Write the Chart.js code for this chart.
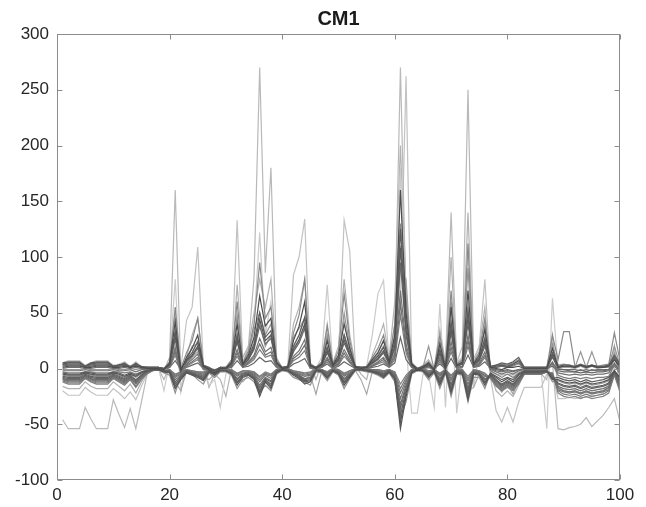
<!DOCTYPE html>
<html>
<head>
<meta charset="utf-8">
<script src="https://cdn.jsdelivr.net/npm/chart.js@4.4.1/dist/chart.umd.min.js"></script>
<style>
  html, body { margin: 0; padding: 0; background: #fff; }
  #wrap { width: 646px; height: 507px; }
</style>
</head>
<body>
<div id="wrap"><canvas id="cm1" width="646" height="507"></canvas></div>
<script>
// x positions 1..100
const xs = Array.from({ length: 100 }, (_, i) => i + 1);
const xTicks = [0, 20, 40, 60, 80, 100];
const yTicks = [-100, -50, 0, 50, 100, 150, 200, 250, 300];

// dark lines with positive peaks
const p1 = [
  1,2,2,2,1,1,2,2,2,1,
  1,2,1,2,1,0,0,0,-1,5,
  42,-2,10,18,30,2,-1,-4,0,0,
  6,40,4,12,28,65,38,45,6,0,
  1,25,38,60,3,0,4,25,3,12,
  40,18,1,0,1,8,14,25,6,30,
  160,50,4,-2,1,5,-2,22,0,55,
  3,6,70,4,12,35,1,0,-1,1,
  1,2,0,0,0,0,0,18,1,2,
  2,1,3,1,3,1,1,2,8,2
];
const p2 = [
  5,6,6,6,2,5,6,6,6,2,
  3,5,1,5,1,1,1,1,0,4,
  34,-1,8,14,24,3,1,-2,1,1,
  5,30,4,10,22,50,28,34,5,1,
  2,20,30,46,3,1,4,19,3,9,
  30,14,2,1,1,6,11,19,5,24,
  125,40,4,0,2,4,-1,17,1,42,
  3,5,52,4,9,27,2,3,5,4,
  6,10,1,1,1,1,1,14,2,3,
  3,2,4,2,3,2,2,3,12,4
];
const p3 = [
  3,4,4,4,2,3,4,4,4,2,
  3,4,2,4,2,1,1,1,0,3,
  26,0,6,11,18,2,0,-2,1,0,
  4,24,3,8,17,38,22,27,4,1,
  1,15,23,36,2,1,3,14,2,7,
  23,11,1,1,1,5,8,14,4,18,
  95,30,3,0,1,3,0,13,0,32,
  2,4,40,3,7,20,1,1,2,1,
  3,5,0,0,0,0,0,10,0,-1,
  -2,-3,-1,-3,-1,-2,-2,-1,8,0
];
const p4 = [
  -2,-2,-2,-2,-1,-2,-2,-2,-2,-1,
  -2,-2,-1,-3,-1,-1,0,0,-1,2,
  18,-3,4,8,13,0,-1,-3,0,-1,
  3,17,2,6,12,27,15,19,2,0,
  0,11,16,26,1,0,2,10,1,5,
  17,8,0,0,0,3,6,10,2,13,
  70,22,2,-1,0,2,-1,10,-1,24,
  1,2,30,2,5,15,-1,-3,-5,-3,
  -5,-2,-1,-1,-1,-1,-1,6,-4,-5,
  -6,-5,-6,-5,-6,-5,-5,-4,5,-3
];
const p5 = [
  -3,-4,-4,-4,-3,-3,-4,-4,-4,-3,
  -3,-4,-3,-5,-3,-1,0,0,-1,1,
  12,-4,2,5,8,-1,-1,-3,-1,-1,
  2,11,1,4,8,17,10,12,1,0,
  0,7,10,16,0,0,1,6,0,3,
  11,5,0,0,0,2,4,6,1,8,
  48,14,1,-1,0,1,-1,6,-1,15,
  0,1,20,1,3,10,-2,-5,-8,-5,
  -8,-4,-2,-2,-2,-2,-1,4,-6,-8,
  -9,-8,-9,-8,-9,-8,-8,-7,3,-5
];
const p6 = [
  2,3,3,3,1,2,3,3,3,1,
  2,3,1,3,1,0,0,0,0,1,
  7,-1,1,3,5,0,0,-1,0,0,
  1,7,1,2,5,10,6,7,1,0,
  0,4,6,9,0,0,1,4,0,2,
  6,3,0,0,0,1,2,4,1,5,
  28,8,1,0,0,1,0,4,0,9,
  0,1,12,1,2,6,0,-1,-2,-1,
  -2,-1,-1,-1,-1,-1,0,2,-2,-3,
  -3,-3,-4,-3,-4,-3,-3,-2,2,-2
];
const p7 = [
  4,5,5,5,2,4,5,5,5,2,
  3,4,1,4,1,1,1,1,0,3,
  30,-1,7,12,20,2,0,-2,1,0,
  4,26,3,8,19,44,25,30,4,0,
  1,17,26,40,2,1,3,16,2,8,
  26,12,1,1,1,5,9,16,4,20,
  108,34,3,0,1,3,-1,14,0,36,
  2,4,46,3,8,23,1,2,3,2,
  4,7,1,1,1,1,1,12,1,2,
  2,1,3,1,2,1,1,2,10,3
];
const p8 = [
  0,1,1,1,0,0,1,1,1,0,
  0,1,0,1,0,0,0,0,0,1,
  15,-2,3,6,10,0,-1,-2,0,0,
  2,14,1,5,10,22,12,15,2,0,
  0,9,13,21,1,0,1,8,1,4,
  14,6,0,0,0,2,5,8,2,10,
  58,18,1,0,0,2,0,8,0,19,
  1,2,25,1,4,12,0,-2,-3,-2,
  -3,-1,0,0,0,0,0,5,-1,-1,
  -1,-1,-2,-1,-2,-1,-1,-1,4,-1
];

// dark lines dipping below zero
const n1 = [
  -5,-6,-6,-6,-4,-5,-6,-6,-6,-4,
  -5,-7,-5,-7,-4,-2,-1,-1,-3,-4,
  -18,-10,-4,-6,-8,-11,-3,-6,-2,-2,
  -5,-15,-8,-6,-10,-25,-12,-18,-4,-1,
  -2,-6,-9,-14,-12,-2,-3,-9,-2,-5,
  -15,-8,-1,-1,-2,-3,-5,-8,-3,-10,
  -54,-25,-4,-1,-2,-8,-3,-15,-3,-22,
  -4,-5,-28,-5,-6,-15,-5,-8,-12,-9,
  -12,-6,-3,-3,-3,-3,-2,-10,-10,-12,
  -13,-12,-14,-12,-14,-13,-12,-10,-2,-9
];
const n2 = [
  -7,-8,-8,-8,-5,-7,-8,-8,-8,-5,
  -7,-9,-6,-10,-6,-2,-1,-1,-3,-3,
  -14,-8,-3,-5,-7,-9,-3,-5,-2,-2,
  -4,-12,-6,-5,-8,-20,-10,-14,-3,-1,
  -2,-5,-7,-11,-10,-2,-2,-7,-2,-4,
  -12,-6,-1,-1,-2,-2,-4,-6,-2,-8,
  -42,-20,-3,-1,-2,-6,-2,-12,-2,-18,
  -3,-4,-22,-4,-5,-12,-6,-10,-14,-11,
  -14,-8,-3,-3,-3,-3,-2,-8,-13,-15,
  -16,-15,-17,-15,-17,-16,-15,-13,-3,-12
];
const n3 = [
  -9,-10,-10,-10,-7,-9,-10,-10,-10,-7,
  -9,-11,-8,-12,-7,-3,-1,-1,-2,-2,
  -10,-6,-2,-4,-5,-7,-2,-4,-1,-2,
  -3,-9,-5,-4,-6,-15,-8,-11,-2,-1,
  -1,-4,-6,-9,-8,-1,-2,-5,-1,-3,
  -9,-5,-1,-1,-1,-2,-3,-5,-2,-6,
  -32,-15,-2,-1,-1,-5,-2,-9,-2,-14,
  -2,-3,-17,-3,-4,-9,-7,-12,-16,-13,
  -16,-10,-4,-4,-4,-4,-3,-6,-16,-18,
  -19,-18,-20,-18,-20,-19,-18,-16,-4,-15
];
const n4 = [
  -10,-12,-12,-12,-8,-10,-12,-12,-12,-8,
  -10,-13,-9,-14,-8,-4,-1,-1,-2,-1,
  -7,-4,-1,-3,-4,-5,-1,-3,-1,-1,
  -2,-6,-3,-3,-4,-10,-5,-7,-1,0,
  -1,-3,-4,-6,-5,-1,-1,-4,-1,-2,
  -6,-3,0,0,-1,-1,-2,-3,-1,-4,
  -22,-10,-1,0,-1,-3,-1,-6,-1,-9,
  -1,-2,-11,-2,-3,-6,-8,-14,-18,-15,
  -18,-12,-5,-5,-5,-5,-3,-5,-19,-21,
  -22,-21,-23,-21,-23,-22,-21,-19,-5,-18
];
const n5 = [
  -12,-14,-14,-14,-9,-12,-14,-14,-14,-9,
  -12,-15,-10,-17,-10,-5,-2,-1,-2,-1,
  -5,-3,-1,-2,-3,-3,-1,-2,0,-1,
  -1,-4,-2,-2,-3,-7,-3,-5,-1,0,
  0,-2,-3,-4,-3,0,-1,-3,0,-1,
  -4,-2,0,0,0,-1,-1,-2,-1,-3,
  -14,-6,-1,0,0,-2,-1,-4,-1,-6,
  -1,-1,-7,-1,-2,-4,-9,-16,-20,-17,
  -20,-14,-5,-5,-5,-5,-3,-4,-22,-25,
  -26,-25,-27,-25,-27,-26,-25,-22,-6,-21
];
const n6 = [
  -4,-5,-5,-5,-3,-4,-5,-5,-5,-3,
  -4,-6,-4,-6,-3,-2,-1,-1,-2,-3,
  -16,-9,-3,-5,-7,-10,-3,-5,-2,-2,
  -4,-13,-7,-5,-9,-22,-11,-16,-3,-1,
  -2,-5,-8,-12,-11,-2,-2,-8,-2,-4,
  -13,-7,-1,-1,-2,-3,-4,-7,-3,-9,
  -48,-22,-3,-1,-2,-7,-2,-13,-2,-20,
  -3,-4,-25,-4,-5,-13,-4,-7,-10,-8,
  -10,-5,-2,-2,-2,-2,-2,-9,-8,-10,
  -11,-10,-12,-10,-12,-11,-10,-8,-2,-8
];
const n7 = [
  -8,-9,-9,-9,-6,-8,-9,-9,-9,-6,
  -8,-10,-7,-11,-6,-3,-1,-1,-2,-2,
  -12,-7,-2,-4,-6,-8,-2,-4,-1,-2,
  -3,-10,-5,-4,-7,-17,-9,-12,-2,-1,
  -1,-4,-6,-10,-9,-1,-2,-6,-1,-3,
  -10,-5,-1,-1,-1,-2,-3,-5,-2,-7,
  -36,-17,-2,-1,-1,-5,-2,-10,-2,-15,
  -2,-3,-19,-3,-4,-10,-6,-11,-15,-12,
  -15,-9,-4,-4,-4,-4,-3,-7,-14,-16,
  -17,-16,-18,-16,-18,-17,-16,-14,-3,-13
];
const n8 = [
  -9,-11,-11,-11,-7,-9,-11,-11,-11,-7,
  -9,-12,-8,-13,-8,-3,-1,-1,-2,-1,
  -8,-5,-2,-3,-4,-6,-1,-3,-1,-1,
  -2,-7,-4,-3,-5,-12,-6,-9,-1,0,
  -1,-3,-5,-7,-6,-1,-1,-4,-1,-2,
  -7,-4,0,0,-1,-1,-2,-4,-1,-5,
  -27,-12,-1,0,-1,-4,-1,-7,-1,-11,
  -1,-2,-14,-2,-3,-7,-7,-13,-17,-14,
  -17,-11,-4,-4,-4,-4,-3,-5,-17,-20,
  -21,-20,-22,-20,-22,-21,-20,-17,-4,-16
];
const n9 = [
  -11,-13,-13,-13,-8,-11,-13,-13,-13,-8,
  -11,-14,-10,-16,-9,-4,-2,-1,-2,-1,
  -6,-3,-1,-2,-3,-4,-1,-2,0,-1,
  -1,-5,-2,-2,-3,-8,-4,-6,-1,0,
  0,-2,-3,-5,-4,0,-1,-3,0,-1,
  -5,-2,0,0,0,-1,-1,-2,-1,-3,
  -18,-8,-1,0,0,-2,-1,-5,-1,-7,
  -1,-1,-9,-1,-2,-5,-8,-15,-19,-16,
  -19,-13,-5,-5,-5,-5,-3,-4,-20,-23,
  -24,-23,-25,-23,-25,-24,-23,-20,-5,-19
];

// medium grey lines
const m1 = [
  4,5,5,5,2,4,5,5,5,2,
  3,4,1,4,1,1,0,0,0,6,
  55,0,14,25,45,3,0,-2,1,1,
  8,60,5,16,40,95,45,55,8,1,
  2,32,48,80,4,1,6,38,4,16,
  67,25,2,1,2,10,18,30,8,40,
  130,62,5,0,2,6,0,30,1,70,
  4,8,112,5,15,45,2,3,4,3,
  5,8,1,1,1,1,1,30,8,33,
  33,2,3,2,3,2,3,4,32,7
];
const m2 = [
  -1,-1,-1,-1,0,-1,-1,-1,-1,0,
  -1,-1,0,-1,0,0,0,0,-1,3,
  30,-5,6,20,22,1,-2,-5,0,-1,
  5,48,3,14,35,50,30,40,4,0,
  1,28,36,45,2,0,3,30,2,10,
  50,20,1,0,1,7,12,20,5,28,
  110,45,3,-1,1,20,-1,25,0,60,
  2,5,90,3,10,38,1,2,3,2,
  4,6,1,1,1,1,1,22,3,4,
  3,1,15,1,15,1,2,2,20,3
];
const m3 = [
  3,3,3,3,1,2,3,3,3,1,
  2,3,1,3,1,1,1,1,0,2,
  20,-3,4,10,15,0,-1,-3,0,0,
  3,30,2,9,20,42,20,30,3,0,
  1,18,25,38,1,0,2,16,1,7,
  30,12,1,0,1,4,8,15,3,15,
  90,80,3,-1,1,3,-1,15,0,40,
  2,4,55,2,6,25,0,1,2,1,
  2,4,0,0,0,0,0,12,1,1,
  1,0,2,0,2,0,1,1,14,2
];
const m4 = [
  -6,-7,-7,-7,-4,-6,-7,-7,-7,-4,
  -6,-8,-5,-8,-5,-2,-1,-1,-4,-6,
  -22,-6,-3,-5,-10,-14,-4,-8,-3,-3,
  -6,-18,-10,-8,-12,-22,-15,-20,-5,-2,
  -3,-8,-10,-12,-15,-3,-4,-11,-3,-6,
  -18,-9,-2,-2,-3,-4,-6,-9,-4,-12,
  -45,-30,-5,-2,-3,-10,-4,-18,-4,-25,
  -5,-6,-30,-8,-8,-18,-4,-10,-15,-11,
  -15,-8,-4,-4,-4,-4,-3,-12,-11,-13,
  -14,-13,-15,-13,-15,-14,-13,-11,-3,-10
];
const m5 = [
  -10,-11,-11,-11,-8,-10,-11,-11,-11,-8,
  -10,-12,-9,-13,-8,-3,-1,-1,-3,-2,
  -12,-20,-2,-4,-6,-8,-10,-5,-2,-2,
  -3,-10,-12,-6,-8,-18,-10,-15,-3,-1,
  -1,-5,-7,-10,-6,-23,-3,-7,-2,-4,
  -12,-6,-2,-10,-23,-3,-4,-6,-3,-8,
  -40,-20,-3,-2,-2,-6,-3,-10,-3,-15,
  -3,-4,-20,-17,-5,-10,-8,-15,-21,-14,
  -23,-10,-3,-3,-3,-3,-2,-6,-18,-20,
  -21,-20,-22,-20,-22,-21,-20,-18,-4,-16
];

// light grey outlier lines
const l1 = [
  -46,-54,-54,-54,-35,-45,-54,-54,-54,-28,
  -41,-53,-36,-54,-30,-5,-1,0,-2,10,
  160,-5,5,10,20,0,-2,-5,0,-1,
  5,30,5,20,82,270,86,180,10,0,
  1,15,25,40,2,0,3,20,2,8,
  30,15,1,0,1,5,10,20,5,40,
  270,60,3,0,1,3,0,20,5,140,
  5,20,250,10,8,30,-3,-5,-6,-5,
  -6,-3,-2,-2,-2,-2,-2,5,-54,-55,
  -53,-52,-50,-44,-52,-47,-42,-35,-27,-48
];
const l2 = [
  -20,-24,-24,-24,-17,-21,-24,-24,-24,-18,
  -22,-27,-21,-28,-16,-5,-1,0,-1,2,
  20,0,43,55,109,2,-3,-8,-2,-2,
  6,133,5,10,25,40,20,30,3,0,
  3,84,100,134,5,0,5,30,3,10,
  133,105,2,0,1,8,15,25,5,30,
  60,262,5,0,2,5,0,20,2,40,
  5,10,60,5,20,80,-8,-38,-48,-35,
  -48,-30,-17,-17,-17,-17,-5,-5,-27,-27,
  -26,-27,-26,-26,-25,-24,-22,-12,0,-22
];
const l3 = [
  5,7,7,7,3,5,7,7,7,3,
  4,6,2,6,2,1,1,1,-20,5,
  80,-20,8,15,25,2,-15,-10,-35,-5,
  5,35,3,15,40,122,30,60,5,0,
  1,20,30,45,2,0,10,75,2,10,
  45,15,0,0,2,30,67,79,5,30,
  180,20,-40,-40,-5,-5,-35,58,-35,60,
  -40,5,112,-17,15,40,-5,-15,-21,-14,
  -23,-10,-3,-3,-3,-3,-54,63,0,2,
  2,1,2,1,2,1,2,2,15,2
];
const l4 = [
  -16,-18,-18,-18,-12,-16,-18,-18,-18,-12,
  -16,-20,-14,-22,-12,-4,-1,0,-10,3,
  50,-20,10,30,45,3,-17,-5,-10,-25,
  0,75,10,20,50,80,55,80,6,0,
  2,40,55,80,5,-10,5,40,5,20,
  80,30,3,-5,-10,12,25,40,10,60,
  200,70,5,0,3,8,0,35,5,100,
  5,10,140,8,20,55,-5,-20,-25,-20,
  -25,-15,-5,-5,-5,-5,-10,30,-18,-20,
  -21,-20,-22,-20,-22,-21,-20,-18,20,-18
];

const seriesList = [p1, n1, p7, n6, p2, n2, p3, n7, n3, p8, p4, n8, n4, p5, n9, n5, p6,
  m1, m2, m3, m4, m5, l1, l2, l3, l4];
const seriesColors = ['#4d4d4d', '#555555', '#5a5a5a', '#5a5a5a', '#5c5c5c', '#606060', '#686868', '#656565',
  '#6c6c6c', '#6f6f6f', '#737373', '#717171', '#777777', '#7d7d7d', '#7a7a7a', '#828282', '#666666',
  '#8a8a8a', '#969696', '#a0a0a0', '#929292', '#a6a6a6',
  '#b9b9b9', '#c2c2c2', '#cbcbcb', '#b2b2b2'];

seriesList.forEach((s, i) => {
  if (s.length !== xs.length) throw new Error('series ' + i + ' has ' + s.length + ' values');
});

// 枠と目盛り（内向き）、タイトル
const frame = {
  id: 'frame',
  afterDraw(chart) {
    const { ctx, chartArea: a, scales } = chart;
    ctx.save();
    ctx.strokeStyle = '#8c8c8c';
    ctx.lineWidth = 1;
    const L = Math.round(a.left) + 0.5, R = Math.round(a.right) - 0.5;
    const T = Math.round(a.top) + 0.5, B = Math.round(a.bottom) - 0.5;
    ctx.strokeRect(L, T, R - L, B - T);
    ctx.beginPath();
    xTicks.forEach(v => {
      const px = Math.round(scales.x.getPixelForValue(v)) + 0.5;
      ctx.moveTo(px, B); ctx.lineTo(px, B - 5);
      ctx.moveTo(px, T); ctx.lineTo(px, T + 5);
    });
    yTicks.forEach(v => {
      const py = Math.round(scales.y.getPixelForValue(v)) + 0.5;
      ctx.moveTo(L, py); ctx.lineTo(L + 5, py);
      ctx.moveTo(R, py); ctx.lineTo(R - 5, py);
    });
    ctx.stroke();

    ctx.fillStyle = '#1a1a1a';
    ctx.font = 'bold 20px "Liberation Sans", Arial, sans-serif';
    ctx.textAlign = 'center';
    ctx.textBaseline = 'alphabetic';
    ctx.fillText('CM1', (a.left + a.right) / 2, 25);
    ctx.restore();
  }
};

new Chart(document.getElementById('cm1'), {
  type: 'line',
  data: {
    datasets: seriesList.map((s, i) => ({
      data: s.map((v, j) => ({ x: xs[j], y: v })),
      borderColor: seriesColors[i],
      borderWidth: 1.2,
      pointRadius: 0,
      tension: 0,
      fill: false
    }))
  },
  options: {
    responsive: false,
    animation: false,
    devicePixelRatio: 1,
    layout: { padding: { top: 34, right: 26, bottom: 0, left: 0 } },
    plugins: {
      legend: { display: false },
      title: { display: false },
      tooltip: { enabled: false }
    },
    scales: {
      x: {
        type: 'linear',
        min: 0,
        max: 100,
        afterFit(s) { s.height = 27; },
        afterBuildTicks(s) { s.ticks = xTicks.map(v => ({ value: v })); },
        grid: { display: false, drawTicks: false },
        border: { display: false },
        ticks: {
          padding: 5,
          color: '#262626',
          maxRotation: 0,
          font: { family: '"Liberation Sans", Arial, sans-serif', size: 17 }
        }
      },
      y: {
        min: -100,
        max: 300,
        afterFit(s) { s.width = 57; },
        afterBuildTicks(s) { s.ticks = yTicks.map(v => ({ value: v })); },
        grid: { display: false, drawTicks: false },
        border: { display: false },
        ticks: {
          padding: 8,
          color: '#262626',
          font: { family: '"Liberation Sans", Arial, sans-serif', size: 17 }
        }
      }
    }
  },
  plugins: [frame]
});
</script>
</body>
</html>
